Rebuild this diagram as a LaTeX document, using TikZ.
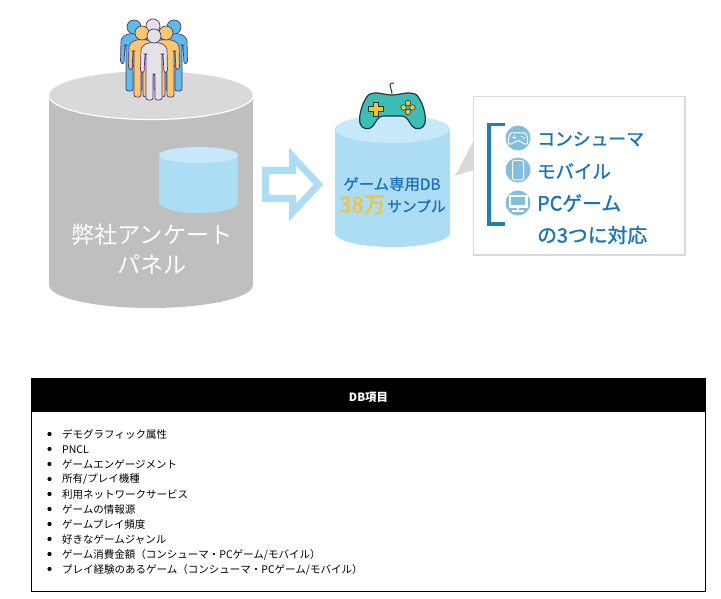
\documentclass[tikz,border=0pt]{standalone}
\usepackage{fontspec}
\setmainfont{Noto Sans CJK JP}
\newfontfamily\semibold[FakeBold=1.2]{Noto Sans CJK JP}
\definecolor{cylgrey}{HTML}{BFBFBF}
\definecolor{cyltop}{HTML}{D9D9D9}
\definecolor{dbblue}{HTML}{ADDCF5}
\definecolor{dbtop}{HTML}{C6E8F8}
\definecolor{txtblue}{HTML}{1B73B8}
\definecolor{brk}{HTML}{1F7FB0}
\definecolor{iconc}{HTML}{84BEDC}
\definecolor{yel}{HTML}{F4C430}
\definecolor{teal1}{HTML}{3DBDB4}
\definecolor{pad}{HTML}{1F3A44}
\definecolor{pblue}{HTML}{5DBBE6}
\definecolor{porange}{HTML}{FBC76E}
\definecolor{pgrey}{HTML}{E4E2E6}
\definecolor{pline}{HTML}{4A3A78}
\tikzset{
  listitem/.style={anchor=west,inner sep=0pt,font=\fontsize{10.5}{12}\selectfont,text=black},
  bulletdot/.style={circle,fill=black,inner sep=0pt,minimum size=4.2pt},
  calltext/.style={anchor=west,inner sep=0pt,text=txtblue},
  iconcircle/.style={circle,fill=iconc,inner sep=0pt,minimum size=25pt},
  iconline/.style={draw=white,line width=1pt,line join=round},
}
\newcommand{\cylshape}[7]{%
  \fill[#7] (#1,#4) ellipse [x radius=#2 pt,y radius=#6 pt];
  \fill[#7] (#1-#2,#3) rectangle (#1+#2,#4);
}
\newcommand{\persona}[3]{%
  \begin{scope}[shift={(#1,#2)}]
    \draw[fill=#3,draw=pline,line width=.7pt,rounded corners=2.2pt,line join=round]
      (-3,6.5) -- (-9,8) -- (-13,12) -- (-13.5,36) -- (-10,37) -- (-9,18) -- (-8,18)
      -- (-8,64) -- (-1,64) -- (-1,38) -- (1,38) -- (1,64) -- (8,64) -- (8,18) -- (9,18)
      -- (10,37) -- (13.5,36) -- (13,12) -- (9,8) -- (3,6.5) -- cycle;
    \draw[fill=#3,draw=pline,line width=.7pt] (0,0) circle [radius=7pt];
  \end{scope}
}
\begin{document}
\begin{tikzpicture}[x=1pt,y=-1pt]
\useasboundingbox (0,0) rectangle (721,599);
\fill[white] (0,0) rectangle (721,599);
% big cylinder
\cylshape{151}{102}{95}{285}{24}{23}{cylgrey}
\draw[white,line width=1.2pt,fill=cyltop] (151,95) ellipse [x radius=102.5pt,y radius=24.5pt];
% people
\persona{153}{26}{pgrey}
\persona{134}{27}{pblue}
\persona{174}{27}{pblue}
\persona{142}{33}{porange}
\persona{166}{33}{porange}
\persona{154}{36}{pgrey}
% small cylinder
\cylshape{198.5}{39.5}{155}{202}{8}{11}{dbblue}
\fill[dbtop] (198.5,155) ellipse [x radius=39.5pt,y radius=8pt];
\node[inner sep=0pt,text=white,font=\fontsize{23.2}{26}\selectfont] (panel1) at (152,235) {弊社アンケート};
\node[inner sep=0pt,text=white,font=\fontsize{23.2}{26}\selectfont] (panel2) at (152,265) {パネル};
% arrow
\draw[dbblue,line width=7pt,miter limit=10,line join=miter]
  (265.5,170.5) -- (292.5,170.5) -- (292.5,156.5) -- (318.5,184.5) -- (292.5,212.5) -- (292.5,198.5) -- (265.5,198.5) -- cycle;
% game DB cylinder
\cylshape{392.5}{57.5}{129}{233}{14}{14}{dbblue}
\fill[dbtop] (392.5,129) ellipse [x radius=57.5pt,y radius=14pt];
\node[inner sep=0pt,text=txtblue,font=\fontsize{15.4}{16}\semibold] (dbt) at (392,184) {ゲーム専用DB};
\node[anchor=west,inner sep=0pt,text=yel,font=\fontsize{22}{22}\semibold] (n38) at (339,205) {38万};
\node[anchor=east,inner sep=0pt,text=txtblue,font=\fontsize{14.8}{16}\semibold] (smp) at (446,206) {サンプル};
% gamepad
\draw[pad,line width=1pt] (392,94) .. controls (392,89) and (389.5,88) .. (390,85) .. controls (390.3,83) and (392,82.5) .. (394,83);
\draw[fill=teal1,draw=pad,line width=1.2pt,line join=round]
  (370,94) .. controls (376,91) and (384,95) .. (392,95)
  .. controls (400,95) and (408,91) .. (415,94)
  .. controls (421,97) and (427,115) .. (425,123)
  .. controls (424,129) and (416,131) .. (412,126)
  .. controls (409,122) and (407,116) .. (402,116)
  -- (383,116)
  .. controls (378,116) and (376,122) .. (373,126)
  .. controls (369,131) and (361,129) .. (360,123)
  .. controls (358,115) and (364,97) .. (370,94) -- cycle;
\draw[fill=yel,draw=pad,line width=.7pt,line join=round]
  (373.5,102) -- (378.5,102) -- (378.5,106.5) -- (383.5,106.5) -- (383.5,111.5) -- (378.5,111.5) -- (378.5,116) -- (373.5,116) -- (373.5,111.5) -- (368.5,111.5) -- (368.5,106.5) -- (373.5,106.5) -- cycle;
\foreach \dx/\dy in {0/-4.5,0/4.5,-4.5/0,4.5/0}
  \draw[fill=yel,draw=pad,line width=.6pt] (408+\dx,107.5+\dy) circle [radius=2.8pt];
% callout
\fill[cyltop] (455,176) -- (473,142) -- (473,170) -- cycle;
\draw[draw=cyltop,line width=1.6pt,fill=white] (473.5,96.5) rectangle (685,255);
\draw[brk,line width=3.6pt,line cap=butt,line join=miter] (505,124.5) -- (489,124.5) -- (489,224) -- (505,224);
\node[iconcircle] (ic1) at (518,138) {};
\node[iconcircle] (ic2) at (518,170) {};
\node[iconcircle] (ic3) at (518,203) {};
% icon details
\draw[iconline,rounded corners=2pt] (509.5,133) -- (526.5,133) -- (528,144) -- (524,144.5) -- (521,141) -- (515,141) -- (512,144.5) -- (508,144) -- cycle;
\draw[white,line width=.6pt] (512,137) -- (516,137) (514,135) -- (514,139);
\fill[white] (522,136.5) circle [radius=.8pt] (524,138) circle [radius=.8pt];
\draw[iconline,rounded corners=1.5pt] (512.5,160.5) rectangle (523.5,180);
\draw[fill=white,draw=white] (509,195.5) rectangle (527,207.5);
\draw[white,line width=1.5pt] (518,207) -- (518,210.5) (512,211) -- (524,211);
\fill[iconc] (511,197.5) rectangle (525,205.5);
\node[calltext,font=\fontsize{17.8}{22}\semibold] (c1) at (537,139) {コンシューマ};
\node[calltext,font=\fontsize{18.4}{22}\semibold] (c2) at (537,171) {モバイル};
\node[calltext,font=\fontsize{19.8}{22}\semibold] (c3) at (537,203) {PCゲーム};
\node[calltext,font=\fontsize{19.8}{22}\semibold] (c4) at (537,235) {の3つに対応};
% table
\draw[black,line width=1pt] (31.5,411) rectangle (705.5,591.5);
\fill[black] (31,378) rectangle (706,411);
\node[inner sep=0pt,text=white,font=\fontsize{11.4}{13}\selectfont\bfseries] (hdr) at (368.5,397) {DB項目};
\foreach \yy/\tx [count=\i] in {
  434/デモグラフィック属性,
  449/PNCL,
  464/ゲームエンゲージメント,
  479/所有{/}プレイ機種,
  494/利用ネットワークサービス,
  509/ゲームの情報源,
  524/ゲームプレイ頻度,
  539/好きなゲームジャンル,
  554/ゲーム消費金額（コンシューマ・PCゲーム{/}モバイル）,
  569/プレイ経験のあるゲーム（コンシューマ・PCゲーム{/}モバイル）}
{
  \node[bulletdot] (b\i) at (49.5,\yy) {};
  \node[listitem] (t\i) at (62,\yy+.5) {\tx};
}
\end{tikzpicture}
\end{document}
